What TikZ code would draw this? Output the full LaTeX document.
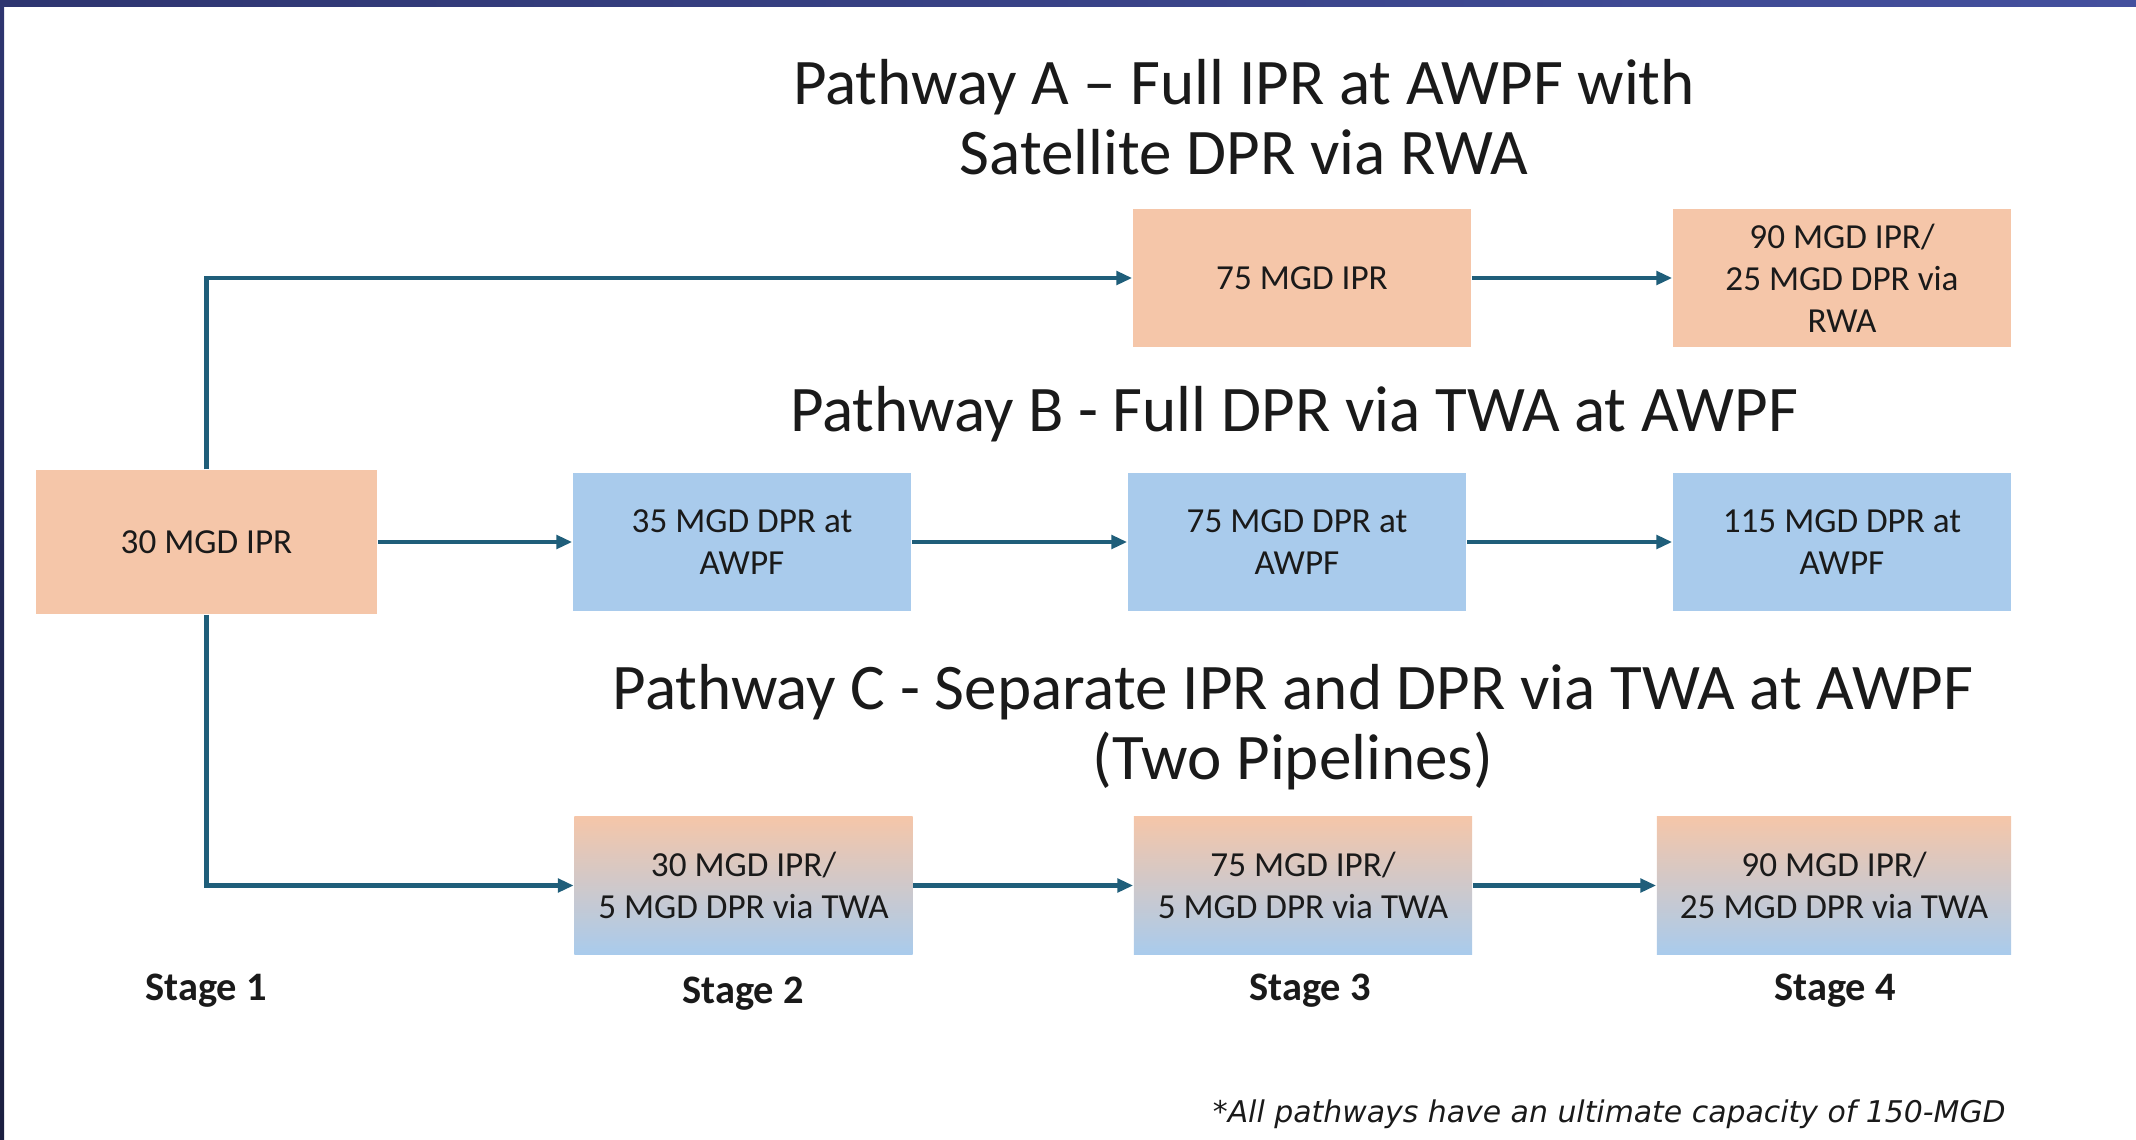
\documentclass[tikz,border=0pt]{standalone}
\usepackage{fontspec}
\setmainfont{Carlito}
\newfontfamily\notefont{DejaVu Sans}
\usetikzlibrary{arrows.meta}
\usetikzlibrary{positioning}
\definecolor{peach}{HTML}{F5C6A9}
\definecolor{skyblue}{HTML}{A9CBEC}
\definecolor{pipe}{HTML}{1F5E7A}
\definecolor{navy}{HTML}{2E3570}
\definecolor{navylight}{HTML}{44509E}
\definecolor{navydark}{HTML}{1B1F40}
\definecolor{ink}{HTML}{1A1A1A}
\tikzset{
    ipr/.style={fill=peach, minimum width=3.38cm, minimum height=1.37cm, inner sep=0pt,
        align=center, text=ink, font=\fontsize{10}{12}\selectfont},
    dpr/.style={ipr, fill=skyblue},
    mixed/.style={ipr, top color=peach, bottom color=skyblue},
    flow/.style={draw=pipe, line width=1.2pt, -{Triangle[length=4.5pt,width=3.8pt]}},
    pathtitle/.style={align=center, text=ink, font=\fontsize{18.5}{20}\selectfont},
    stagelabel/.style={anchor=base, text=ink, font=\fontsize{11.5}{13}\selectfont\bfseries},
}

\begin{document}
\begin{tikzpicture}[x=0.01cm, y=-0.01cm]
	\useasboundingbox (0,0) rectangle (2136,1139);
	\shade[left color=navy, right color=navylight] (0,0) rectangle (2136,6);
	\shade[top color=navy, bottom color=navydark] (0,0) rectangle (4,1139);
		\node[ipr, minimum width=3.41cm, minimum height=1.44cm] (s1) at (206.5,542) {30 MGD IPR};
		\node[ipr] (a2) at (1302,278) {75 MGD IPR};
		\node[ipr] (a3) at (1842,278) {90 MGD IPR/\\25 MGD DPR via\\RWA};
		\node[dpr] (b1) at (742,542) {35 MGD DPR at\\AWPF};
		\node[dpr] (b2) at (1297,542) {75 MGD DPR at\\AWPF};
		\node[dpr] (b3) at (1842,542) {115 MGD DPR at\\AWPF};
		\node[mixed] (c1) at (743.5,885.5) {30 MGD IPR/\\5 MGD DPR via TWA};
		\node[mixed] (c2) at (1303,885.5) {75 MGD IPR/\\5 MGD DPR via TWA};
		\node[mixed, minimum width=3.54cm] (c3) at (1834,885.5) {90 MGD IPR/\\25 MGD DPR via TWA};
	\node[pathtitle] (ta) at (1244,117) {Pathway A – Full IPR at AWPF with\\Satellite DPR via RWA};
	\node[pathtitle, anchor=base] (tb) at (1294,431) {Pathway B - Full DPR via TWA at AWPF};
	\node[pathtitle] (tc) at (1293,727) {Pathway C - Separate IPR and DPR via TWA at AWPF\\(Two Pipelines)};
		\node[stagelabel] (st1) at (206,1000) {Stage 1};
		\node[stagelabel] (st2) at (743,1003) {Stage 2};
		\node[stagelabel] (st3) at (1310,1000) {Stage 3};
		\node[stagelabel] (st4) at (1835,1000) {Stage 4};
	\node[anchor=base east, text=ink, font=\notefont\itshape\fontsize{8.5}{10}\selectfont] (note) at (2018,1122)
		{*All pathways have an ultimate capacity of 150-MGD};
	\draw[flow] (s1.north) |- (a2.west);
	\draw[flow] (a2) -- (a3);
	\draw[flow] (s1) -- (b1);
	\draw[flow] (b1) -- (b2);
	\draw[flow] (b2) -- (b3);
	\draw[flow] (s1.south) |- (c1.west);
	\draw[flow] (c1) -- (c2);
	\draw[flow] (c2) -- (c3);
\end{tikzpicture}
\end{document}
